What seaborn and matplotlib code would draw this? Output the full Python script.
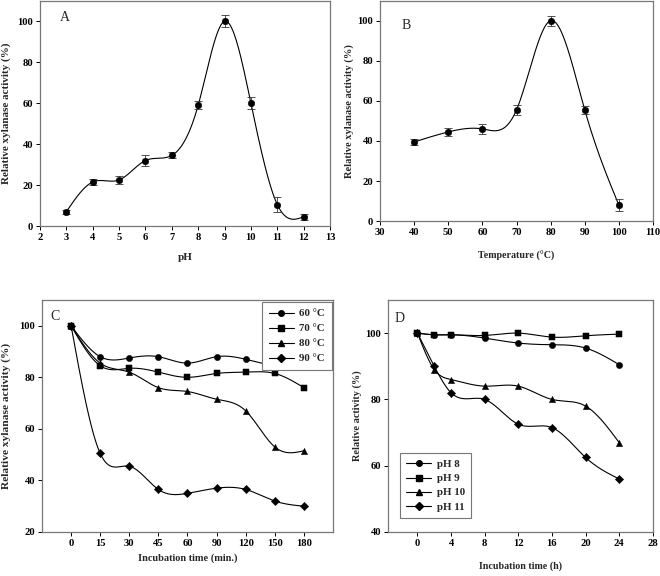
import numpy as np
import pandas as pd
import matplotlib
matplotlib.use('Agg')
import matplotlib.pyplot as plt
from matplotlib.lines import Line2D
import seaborn as sns

# ── data ──────────────────────────────────────────────────
ph = [3, 4, 5, 6, 7, 8, 9, 10, 11, 12]
ph_act = [7, 21.5, 22.5, 32, 34.5, 59, 100, 60, 10.5, 4.5]
ph_err = [1, 1.5, 2, 2.5, 1.5, 2, 3, 3, 3.5, 1.5]

temp = [40, 50, 60, 70, 80, 90, 100]
temp_act = [39.5, 44.5, 46, 55.5, 100, 55.5, 8]
temp_err = [1.5, 2, 2.5, 2.5, 2.5, 2, 3]

c_time = ['0', '15', '30', '45', '60', '90', '120', '150', '180']
c_labels = ['60 °C', '70 °C', '80 °C', '90 °C']
c_60 = [100, 88, 87.5, 88, 85.5, 88, 87, 84.5, 84]
c_70 = [100, 84.5, 83.5, 82, 80, 81.5, 82, 81.5, 76]
c_80 = [100, 85.5, 82, 76, 74.5, 71.5, 67, 53, 51.5]
c_90 = [100, 50.5, 45.5, 36.5, 35, 37, 36.5, 32, 30]

d_time = [0, 2, 4, 8, 12, 16, 20, 24]
d_labels = ['pH 8', 'pH 9', 'pH 10', 'pH 11']
d_8 = [100, 99.5, 99.5, 98.5, 97, 96.5, 95.5, 90.5]
d_9 = [100, 99.5, 99.5, 99.3, 100, 98.8, 99.2, 99.7]
d_10 = [100, 89, 86, 84, 84, 80, 78, 67]
d_11 = [100, 90, 82, 80, 72.5, 71.5, 62.5, 56]

markers = ['o', 's', '^', 'D']


def spline(x, y, n=300):
    # natural cubic spline through the points (like SigmaPlot's smooth line)
    x = np.asarray(x, float); y = np.asarray(y, float)
    h = np.diff(x)
    k = len(x)
    A = np.zeros((k, k)); b = np.zeros(k)
    A[0, 0] = A[-1, -1] = 1
    for i in range(1, k - 1):
        A[i, i - 1] = h[i - 1]; A[i, i] = 2 * (h[i - 1] + h[i]); A[i, i + 1] = h[i]
        b[i] = 6 * ((y[i + 1] - y[i]) / h[i] - (y[i] - y[i - 1]) / h[i - 1])
    M = np.linalg.solve(A, b)
    xs = np.linspace(x[0], x[-1], n)
    j = np.clip(np.searchsorted(x, xs) - 1, 0, k - 2)
    t1 = x[j + 1] - xs; t0 = xs - x[j]
    ys = (M[j] * t1**3 + M[j + 1] * t0**3) / (6 * h[j]) \
        + (y[j] / h[j] - M[j] * h[j] / 6) * t1 + (y[j + 1] / h[j] - M[j + 1] * h[j] / 6) * t0
    return pd.DataFrame({'x': xs, 'y': ys})


sns.set_theme(style='ticks')
plt.rcParams['font.family'] = ['Liberation Serif', 'DejaVu Serif']
plt.rcParams['font.weight'] = 'bold'
plt.rcParams['axes.labelweight'] = 'bold'
plt.rcParams['xtick.labelsize'] = 7.6
plt.rcParams['ytick.labelsize'] = 7.6
plt.rcParams['xtick.major.size'] = 3
plt.rcParams['ytick.major.size'] = 3
plt.rcParams['xtick.major.width'] = 0.7
plt.rcParams['ytick.major.width'] = 0.7
plt.rcParams['xtick.color'] = 'black'
plt.rcParams['ytick.color'] = 'black'

fig = plt.figure(figsize=(6.6, 5.76), dpi=100)
axA = fig.add_axes([0.0606, 0.6076, 0.4394, 0.391])
axB = fig.add_axes([0.5758, 0.616, 0.4136, 0.383])
axC = fig.add_axes([0.0636, 0.0764, 0.4409, 0.4028])
axD = fig.add_axes([0.588, 0.0764, 0.401, 0.4028])


def frame(ax):
    for s in ax.spines.values():
        s.set_visible(True); s.set_color('#777777'); s.set_linewidth(0.9)
    ax.tick_params(top=False, right=False, direction='out', pad=2)


def labels(ax, xl, xs, xy, yl, ys, yx):
    ax.set_xlabel(xl, fontsize=xs)
    ax.set_ylabel(yl, fontsize=ys)
    ax.xaxis.set_label_coords(0.5, xy)
    ax.yaxis.set_label_coords(yx, 0.5)


def smooth_with_errors(ax, x, y, e):
    sns.lineplot(data=spline(x, y), x='x', y='y', ax=ax, color='black', lw=0.8, sort=False)
    ax.errorbar(x, y, yerr=e, fmt='none', ecolor='#333333', elinewidth=0.6, capsize=2.8, capthick=0.6)
    sns.scatterplot(x=x, y=y, ax=ax, color='black', s=22, marker='o', edgecolor='black', zorder=5)


# A: pH
smooth_with_errors(axA, ph, ph_act, ph_err)
axA.set_xlim(2, 13); axA.set_ylim(0, 110)
axA.set_xticks(range(2, 14)); axA.set_yticks(range(0, 101, 20))
labels(axA, 'pH', 8, -0.12, 'Relative xylanase activity (%)', 8, -0.10)
axA.text(0.086, 0.925, 'A', transform=axA.transAxes, fontsize=10, fontweight='normal', va='center', ha='center')
frame(axA)

# B: temperature
smooth_with_errors(axB, temp, temp_act, temp_err)
axB.set_xlim(30, 110); axB.set_ylim(0, 110)
axB.set_xticks(range(30, 111, 10)); axB.set_yticks(range(0, 101, 20))
labels(axB, 'Temperature (°C)', 7.2, -0.135, 'Relative xylanase activity (%)', 7.6, -0.095)
axB.text(0.095, 0.887, 'B', transform=axB.transAxes, fontsize=10, fontweight='normal', va='center', ha='center')
frame(axB)

# C: thermostability
pos = list(range(len(c_time)))
handles = []
for vals, m, lab in zip([c_60, c_70, c_80, c_90], markers, c_labels):
    sns.lineplot(data=spline(pos, vals), x='x', y='y', ax=axC, color='black', lw=0.8, sort=False)
    sns.scatterplot(x=pos, y=vals, ax=axC, color='black', s=20 if m != 'D' else 18, marker=m,
                    edgecolor='black', zorder=5)
    handles.append(Line2D([], [], color='black', lw=0.8, marker=m, markersize=4, label=lab))
axC.set_xlim(-1, 9); axC.set_ylim(20, 110)
axC.set_xticks(pos); axC.set_xticklabels(c_time)
axC.set_yticks(range(20, 101, 20))
labels(axC, 'Incubation time (min.)', 7.4, -0.092, 'Relative xylanase activity (%)', 8.2, -0.107)
axC.text(0.045, 0.93, 'C', transform=axC.transAxes, fontsize=10, fontweight='normal', va='center', ha='center')
lg = axC.legend(handles=handles, loc='upper right', bbox_to_anchor=(0.995, 0.99), fontsize=7.8,
                frameon=True, fancybox=False, framealpha=1, edgecolor='#777777',
                handlelength=2.3, labelspacing=0.5, borderpad=0.6, handletextpad=0.5, borderaxespad=0)
lg.get_frame().set_linewidth(0.8)
lg.set_zorder(10)
frame(axC)

# D: pH stability
handles = []
for vals, m, lab in zip([d_8, d_9, d_10, d_11], markers, d_labels):
    sns.lineplot(data=spline(d_time, vals), x='x', y='y', ax=axD, color='black', lw=0.8, sort=False)
    sns.scatterplot(x=d_time, y=vals, ax=axD, color='black', s=20 if m != 'D' else 18, marker=m,
                    edgecolor='black', zorder=5)
    handles.append(Line2D([], [], color='black', lw=0.8, marker=m, markersize=4, label=lab))
axD.set_xlim(-3.5, 28); axD.set_ylim(40, 110)
axD.set_xticks(range(0, 29, 4)); axD.set_yticks(range(40, 101, 20))
labels(axD, 'Incubation time (h)', 7.2, -0.125, 'Relative activity (%)', 7.4, -0.098)
axD.text(0.045, 0.92, 'D', transform=axD.transAxes, fontsize=10, fontweight='normal', va='center', ha='center')
lg = axD.legend(handles=handles, loc='lower left', bbox_to_anchor=(0.045, 0.06), fontsize=7.8,
                frameon=True, fancybox=False, framealpha=1, edgecolor='#777777',
                handlelength=2.3, labelspacing=0.42, borderpad=0.6, handletextpad=0.5, borderaxespad=0)
lg.get_frame().set_linewidth(0.8)
frame(axD)

fig.savefig('out.png', dpi=100)
